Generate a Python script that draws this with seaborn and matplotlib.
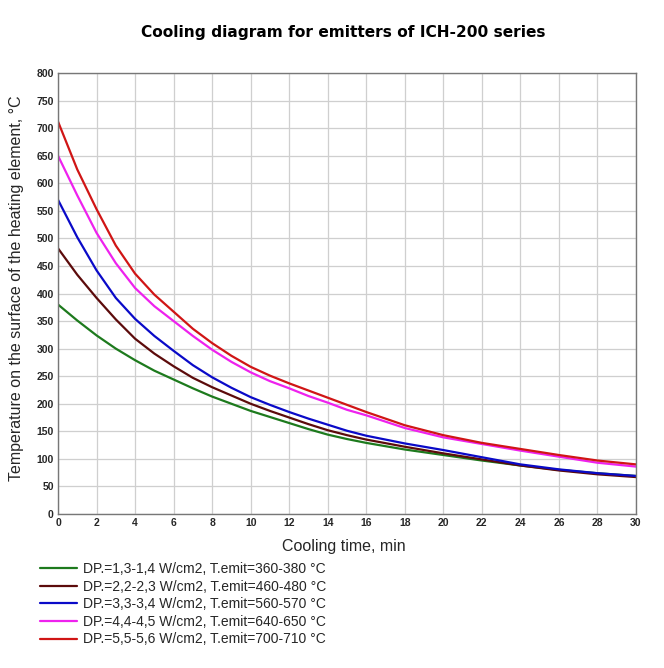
import matplotlib
matplotlib.use("Agg")
import matplotlib.pyplot as plt
import seaborn as sns
import pandas as pd

time_min = [0, 1, 2, 3, 4, 5, 6, 7, 8, 9, 10, 11, 12, 13, 14, 15, 16, 18, 20, 22, 24, 26, 28, 30]

green_vals   = [380, 351, 324, 300, 279, 260, 244, 228, 213, 200, 187, 176, 165, 154, 144, 136, 129, 117, 107, 97, 88, 80, 74, 69]
brown_vals   = [482, 434, 392, 353, 318, 291, 268, 247, 230, 215, 200, 187, 175, 163, 152, 143, 135, 122, 110, 99, 88, 79, 72, 67]
blue_vals    = [570, 502, 442, 392, 354, 323, 296, 270, 248, 229, 212, 198, 185, 173, 162, 151, 142, 128, 116, 103, 90, 81, 74, 69]
magenta_vals = [650, 578, 510, 455, 410, 377, 350, 323, 298, 276, 257, 241, 228, 214, 202, 189, 179, 156, 139, 127, 115, 104, 93, 86]
red_vals     = [712, 625, 553, 487, 436, 398, 367, 336, 310, 287, 267, 251, 237, 224, 211, 198, 185, 161, 143, 129, 118, 107, 97, 90]

series_labels = [
    "DP.=1,3-1,4 W/cm2, T.emit=360-380 °C",
    "DP.=2,2-2,3 W/cm2, T.emit=460-480 °C",
    "DP.=3,3-3,4 W/cm2, T.emit=560-570 °C",
    "DP.=4,4-4,5 W/cm2, T.emit=640-650 °C",
    "DP.=5,5-5,6 W/cm2, T.emit=700-710 °C",
]
series_values = [green_vals, brown_vals, blue_vals, magenta_vals, red_vals]
colors = ["#1d7a1d", "#5c0b0b", "#0a0ac8", "#ee22ee", "#d01515"]

title = "Cooling diagram for emitters of ICH-200 series"
xlabel = "Cooling time, min"
ylabel = "Temperature on the surface of the heating element, °C"

rows = []
for lab, vals in zip(series_labels, series_values):
    for t, v in zip(time_min, vals):
        rows.append({"time": t, "temp": v, "series": lab})
df = pd.DataFrame(rows)

sns.set_style("white")
plt.rcParams["font.family"] = ["Liberation Sans", "DejaVu Sans"]

fig = plt.figure(figsize=(6.64, 6.68), dpi=100)
ax = fig.add_axes([58/664, 1-514/668, (636-58)/664, (514-73)/668])

sns.lineplot(data=df, x="time", y="temp", hue="series", hue_order=series_labels,
             palette=colors, linewidth=1.6, ax=ax, legend=True)

ax.set_xlim(0, 30)
ax.set_ylim(0, 800)
ax.set_xticks(range(0, 31, 2))
ax.set_yticks(range(0, 801, 50))
ax.grid(True, color="#cfcfcf", linewidth=0.9)
ax.set_axisbelow(True)
for s in ax.spines.values():
    s.set_color("#777777")
    s.set_linewidth(1.0)
ax.tick_params(axis="both", labelsize=7.5, length=2, color="#777777", pad=1)
for lbl in ax.get_xticklabels() + ax.get_yticklabels():
    lbl.set_fontweight("bold")
ax.set_xlabel("")
ax.set_ylabel("")

handles, labels = ax.get_legend_handles_labels()
ax.get_legend().remove()
fig.legend(handles, labels, loc="upper left", bbox_to_anchor=(40/664, 1-562/668),
           frameon=False, fontsize=10, handlelength=2.66, handletextpad=0.43,
           labelspacing=0.26, borderpad=0, borderaxespad=0)

fig.text(343.5/664, 1-32/668, title, ha="center", va="center", fontsize=11.1,
         fontweight="bold", family="DejaVu Sans", color="black")
fig.text(344/664, 1-546/668, xlabel, ha="center", va="center", fontsize=11.5)
fig.text(17/664, 1-288/668, ylabel, ha="center", va="center", rotation=90, fontsize=11.5)

fig.savefig("out.png", dpi=100, facecolor="white")
